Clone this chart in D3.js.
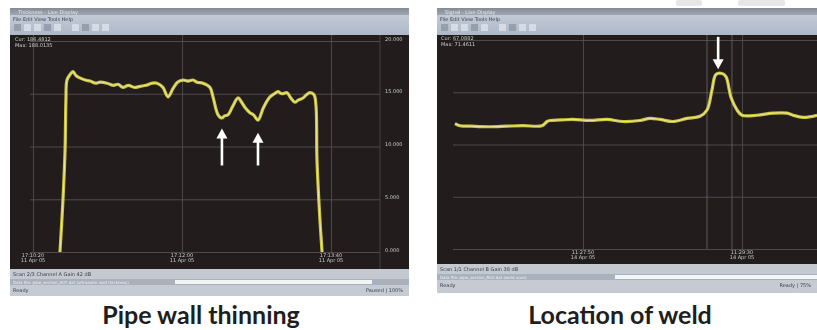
<!DOCTYPE html>
<html>
<head>
<meta charset="utf-8">
<script src="https://cdn.jsdelivr.net/npm/d3@7"></script>
<style>
body { margin: 0; background: #fff; }
svg { display: block; }
.cap { font-family: Lato, "Open Sans", sans-serif; font-weight: 700; font-size: 25px; fill: #1e1e1e; }
.tiny { font-family: "DejaVu Sans", sans-serif; font-size: 5px; fill: #c9c9c9; }
.chrome-txt { font-family: "DejaVu Sans", sans-serif; font-size: 5px; fill: #3a3f48; }
</style>
</head>
<body>
<svg id="chart" width="817" height="330"></svg>
<script>
// wall thickness (mm) against distance along the pipe (mm)
const thinningTrace = [
  [18.1, 0], [20.1, 4.9], [21.5, 9.6], [22.1, 14.4], [22.8, 16.3], [24.8, 16.8], [26.8, 17.1],
  [29, 16.7], [31.5, 16.5], [35, 16.3], [38.3, 16.2], [42, 16.0], [45, 16.1], [49.7, 16.0],
  [54, 15.8], [57, 15.9], [60.4, 15.6], [64, 15.8], [68, 15.6], [71.8, 15.7], [76, 15.8],
  [80, 16.0], [83.2, 16.0], [87.2, 15.6], [90.6, 14.7], [94, 15.5], [97, 16.1], [100.7, 16.3],
  [104, 16.2], [107.4, 16.3], [110, 16.1], [114.1, 16.0], [118.8, 15.6], [120.8, 14.7],
  [124.2, 13.0], [126.8, 12.7], [128.5, 12.9], [130.9, 13.0], [134, 13.8], [137.6, 14.6],
  [140, 14.2], [142.3, 13.7], [145.6, 13.2], [148, 13.0], [151, 12.5], [154.4, 13.6],
  [157, 14.3], [159.1, 14.7], [162, 15.0], [164.4, 15.2], [167, 15.0], [170.5, 15.1],
  [173, 14.6], [175.8, 14.2], [178, 14.4], [181.2, 14.6], [183.5, 14.9], [185.9, 15.1],
  [188.6, 14.9], [189.9, 13.9], [190.6, 8.7], [192.6, 3.0], [194, 0]
];
// signal level along the pipe
const weldTrace = [
  [19.5, 12.0], [22.6, 11.8], [30, 11.75], [41.5, 11.7], [52, 11.75], [62.3, 11.8], [74.2, 11.8],
  [77.4, 12.2], [79.2, 12.3], [86, 12.35], [93.7, 12.4], [104.4, 12.3], [115.1, 12.4],
  [125.2, 12.2], [135.8, 12.3], [142.1, 12.5], [148.4, 12.4], [156.6, 12.2], [165.4, 12.5],
  [173.6, 12.7], [178, 13.3], [181.1, 15.2], [183.6, 16.7], [187.4, 16.8], [189.9, 16.5],
  [193.1, 14.5], [196.9, 13.3], [200, 12.8], [209.4, 12.8], [219.5, 13.0], [228.3, 13.0],
  [232.1, 12.8], [238.4, 12.6], [247.2, 12.8]
];
// arrows: [x, tip, tail]
const thinningArrows = [[126.8, 11.7, 8.2], [151, 11.3, 8.2]];
const weldArrows = [[185, 17.2, 20.3]];
const weldCursors = [178, 193.7];

const yTicks = [0, 5, 10, 15, 20];
const thinningXTicks = [0, 100, 200];
const weldXTicks = [100, 200];
const thinningTickLabels = [["17:10:20", "11 Apr 05"], ["17:12:00", "11 Apr 05"], ["17:13:40", "11 Apr 05"]];
const weldTickLabels = [["11:27:50", "14 Apr 05"], ["11:29:30", "14 Apr 05"]];
const captions = ["Pipe wall thinning", "Location of weld"];

const svg = d3.select("#chart");
const defs = svg.append("defs");

let tg = defs.append("linearGradient").attr("id", "titleGrad").attr("x1", 0).attr("x2", 0).attr("y1", 0).attr("y2", 1);
tg.append("stop").attr("offset", "0%").attr("stop-color", "#858b95");
tg.append("stop").attr("offset", "100%").attr("stop-color", "#a0a7b2");
let bg = defs.append("linearGradient").attr("id", "barGrad").attr("x1", 0).attr("x2", 0).attr("y1", 0).attr("y2", 1);
bg.append("stop").attr("offset", "0%").attr("stop-color", "#c2cad6");
bg.append("stop").attr("offset", "100%").attr("stop-color", "#aeb8c7");
defs.append("filter").attr("id", "soft")
  .append("feGaussianBlur").attr("stdDeviation", 0.45);

function drawPanel(cfg) {
  const g = svg.append("g").attr("filter", "url(#soft)");
  const w = cfg.win, p = cfg.plot;

  // window chrome
  g.append("rect").attr("x", w.x0).attr("y", w.y0).attr("width", w.x1 - w.x0).attr("height", w.y1 - w.y0)
    .attr("fill", "#bfc4cc");
  g.append("rect").attr("x", w.x0).attr("y", w.y0).attr("width", w.x1 - w.x0).attr("height", 7)
    .attr("fill", "url(#titleGrad)");
  g.append("rect").attr("x", w.x0).attr("y", w.y0 + 7).attr("width", w.x1 - w.x0).attr("height", p.y0 - w.y0 - 7)
    .attr("fill", "url(#barGrad)");
  g.append("text").attr("class", "chrome-txt").attr("x", w.x0 + 8).attr("y", w.y0 + 5.5).style("fill", "#e4e7ec")
    .text(cfg.title);
  g.append("text").attr("class", "chrome-txt").attr("x", w.x0 + 3).attr("y", w.y0 + 12.5)
    .text("File  Edit  View  Tools  Help");
  g.selectAll("rect.icon").data(d3.range(9)).join("rect").attr("class", "icon")
    .attr("x", i => w.x0 + 4 + i * 10 + (i > 4 ? 8 : 0)).attr("y", w.y0 + 16).attr("width", 7).attr("height", 7)
    .attr("fill", i => i % 3 === 0 ? "#8d96a4" : "#dde2ea").attr("opacity", 0.8);

  // plot background
  g.append("rect").attr("x", p.x0).attr("y", p.y0).attr("width", p.x1 - p.x0).attr("height", p.y1 - p.y0)
    .attr("fill", "#221e1f");

  // status bars
  const sb = p.y1;
  g.append("rect").attr("x", w.x0).attr("y", sb).attr("width", w.x1 - w.x0).attr("height", 10).attr("fill", "#c3c8d1");
  g.append("text").attr("class", "chrome-txt").attr("x", w.x0 + 3).attr("y", sb + 7).text(cfg.status1);
  g.append("rect").attr("x", w.x0).attr("y", sb + 10).attr("width", w.x1 - w.x0).attr("height", 6).attr("fill", "#a9b1bd");
  g.append("rect").attr("x", cfg.bar[0]).attr("y", sb + 11).attr("width", cfg.bar[1] - cfg.bar[0]).attr("height", 4)
    .attr("fill", "#f4f5f7");
  g.append("text").attr("class", "chrome-txt").attr("x", w.x0 + 3).attr("y", sb + 14.5).style("fill", "#eef0f3")
    .style("font-size", "4px").text(cfg.status2);
  g.append("rect").attr("x", w.x0).attr("y", sb + 16).attr("width", w.x1 - w.x0).attr("height", w.y1 - sb - 16)
    .attr("fill", "#c6cbd3");
  g.append("text").attr("class", "chrome-txt").attr("x", w.x0 + 3).attr("y", sb + 23).text("Ready");
  g.append("text").attr("class", "chrome-txt").attr("x", w.x1 - 6).attr("y", sb + 23).attr("text-anchor", "end")
    .text(cfg.status3);

  // scales
  const x = d3.scaleLinear().domain(cfg.xDomain).range(cfg.xRange);
  const y = d3.scaleLinear().domain([0, 20]).range(cfg.yRange);

  const inner = g.append("g");
  inner.append("clipPath").attr("id", cfg.id + "-clip")
    .append("rect").attr("x", p.x0).attr("y", p.y0).attr("width", p.x1 - p.x0).attr("height", p.y1 - p.y0);
  const plot = inner.append("g").attr("clip-path", `url(#${cfg.id}-clip)`);

  // horizontal grid
  plot.append("g").attr("transform", `translate(${cfg.gridX[1]},0)`)
    .call(d3.axisLeft(y).tickValues(yTicks).tickSize(cfg.gridX[1] - cfg.gridX[0]).tickFormat(""))
    .call(a => a.select(".domain").remove())
    .call(a => a.selectAll("line").attr("stroke", "#5a5455").attr("stroke-width", 0.8));

  // vertical grid
  plot.append("g").attr("transform", `translate(0,${y(0)})`)
    .call(d3.axisBottom(x).tickValues(cfg.xTicks).tickSize(-(y(0) - p.y0)).tickFormat(""))
    .call(a => a.select(".domain").remove())
    .call(a => a.selectAll("line").attr("stroke", "#575152").attr("stroke-width", 0.8));

  // cursors
  plot.selectAll("line.cursor").data(cfg.cursors || []).join("line").attr("class", "cursor")
    .attr("x1", d => x(d)).attr("x2", d => x(d)).attr("y1", p.y0).attr("y2", y(0))
    .attr("stroke", "#6c6667").attr("stroke-width", 0.8);

  // right axis with value labels
  if (cfg.yAxisX) {
    plot.append("line").attr("x1", cfg.yAxisX).attr("x2", cfg.yAxisX).attr("y1", p.y0).attr("y2", p.y1)
      .attr("stroke", "#4a4445").attr("stroke-width", 0.8);
    plot.append("g").attr("transform", `translate(${cfg.yAxisX},0)`)
      .call(d3.axisRight(y).tickValues(yTicks).tickSize(0).tickPadding(5).tickFormat(d3.format(".3f")))
      .call(a => a.select(".domain").remove())
      .call(a => a.selectAll("text").attr("class", "tiny").attr("font-family", null).attr("font-size", null)
        .attr("fill", null).attr("dy", "-0.2em"));
  }

  // x tick labels, two lines
  const xl = plot.selectAll("g.xl").data(cfg.xTicks).join("g").attr("class", "xl")
    .attr("transform", d => `translate(${x(d)},${y(0) + 5})`);
  xl.append("text").attr("class", "tiny").attr("text-anchor", "middle").attr("y", 0)
    .text((d, i) => cfg.tickLabels[i][0]);
  xl.append("text").attr("class", "tiny").attr("text-anchor", "middle").attr("y", 5)
    .text((d, i) => cfg.tickLabels[i][1]);

  // readout
  plot.append("text").attr("class", "tiny").attr("x", cfg.readout[0]).attr("y", cfg.readout[1]).text(cfg.readText[0]);
  plot.append("text").attr("class", "tiny").attr("x", cfg.readout[0]).attr("y", cfg.readout[1] + 5.5).text(cfg.readText[1]);

  // trace
  const line = d3.line().x(d => x(d[0])).y(d => y(d[1])).curve(d3.curveCatmullRom.alpha(0.5));
  plot.append("path").datum(cfg.trace).attr("d", line).attr("fill", "none")
    .attr("stroke", "#c9c23a").attr("stroke-width", 3.2).attr("stroke-linejoin", "round");
  plot.append("path").datum(cfg.trace).attr("d", line).attr("fill", "none")
    .attr("stroke", "#eeeaa4").attr("stroke-width", 1.1).attr("stroke-linejoin", "round").attr("opacity", 0.85);

  // arrows
  cfg.arrows.forEach(([ax, tip, tail]) => {
    const xt = x(ax), yt = y(tip), yb = y(tail);
    const dir = yb > yt ? 1 : -1;
    plot.append("line").attr("x1", xt).attr("x2", xt).attr("y1", yb).attr("y2", yt + dir * 8)
      .attr("stroke", "#ffffff").attr("stroke-width", 2.6);
    plot.append("path")
      .attr("d", `M${xt},${yt} L${xt - 5.5},${yt + dir * 10} L${xt + 5.5},${yt + dir * 10} Z`)
      .attr("fill", "#ffffff");
  });

  // caption
  svg.append("text").attr("class", "cap").attr("x", cfg.capX).attr("y", 324).attr("text-anchor", "middle")
    .text(cfg.caption);
}

// faint shapes above the right screen
svg.selectAll("rect.tab").data([[676, 702], [738, 785]]).join("rect").attr("class", "tab")
  .attr("x", d => d[0]).attr("y", 0).attr("width", d => d[1] - d[0]).attr("height", 6)
  .attr("fill", "#e6e6e6").attr("rx", 2);

drawPanel({
  id: "thin", title: "Thickness - Live Display",
  win: { x0: 10, x1: 409, y0: 8, y1: 296 },
  plot: { x0: 10, x1: 409, y0: 35, y1: 269 },
  xDomain: [0, 200], xRange: [33, 331], yRange: [252, 41],
  xTicks: thinningXTicks, tickLabels: thinningTickLabels,
  gridX: [30, 380], yAxisX: 380,
  bar: [175, 372],
  readout: [15, 41], readText: ["Cur:  186.4812", "Max:  188.0135"],
  status1: "Scan 2/3   Channel A   Gain 42 dB", status2: "Data file: pipe_section_A07.dat  (ultrasonic wall thickness)",
  status3: "Paused  |  100%",
  trace: thinningTrace, arrows: thinningArrows,
  caption: captions[0], capX: 201
});

drawPanel({
  id: "weld", title: "Signal - Live Display",
  win: { x0: 437, x1: 817, y0: 8, y1: 293 },
  plot: { x0: 437, x1: 817, y0: 35, y1: 264 },
  xDomain: [100, 200], xRange: [583, 742], yRange: [249, 40],
  xTicks: weldXTicks, tickLabels: weldTickLabels,
  gridX: [453, 817], yAxisX: null, cursors: weldCursors,
  bar: [615, 817],
  readout: [441, 40], readText: ["Cur:  67.0882", "Max:  71.4611"],
  status1: "Scan 1/1   Channel B   Gain 38 dB", status2: "Data file: pipe_section_B02.dat  (weld scan)",
  status3: "Ready  |  75%",
  trace: weldTrace, arrows: weldArrows,
  caption: captions[1], capX: 620
});
</script>
</body>
</html>
